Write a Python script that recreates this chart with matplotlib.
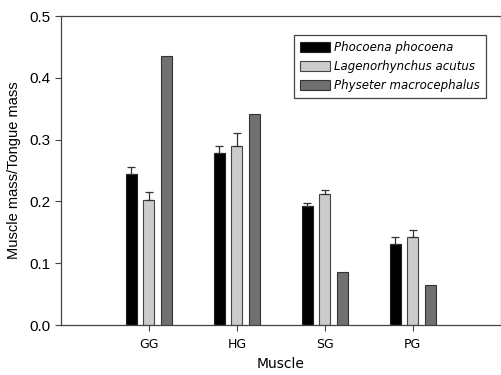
import numpy as np
import matplotlib.pyplot as plt

muscles = ["GG", "HG", "SG", "PG"]
species = ["Phocoena phocoena", "Lagenorhynchus acutus", "Physeter macrocephalus"]
phocoena = [0.244, 0.279, 0.193, 0.131]
phocoena_err = [0.011, 0.011, 0.004, 0.011]
lagenorhynchus = [0.203, 0.290, 0.212, 0.142]
lagenorhynchus_err = [0.012, 0.021, 0.007, 0.011]
physeter = [0.435, 0.342, 0.085, 0.064]

colors = ["#000000", "#cccccc", "#707070"]

fig = plt.figure(figsize=(5.02, 3.75), dpi=100)
ax = fig.add_axes([0.1215, 0.1333, 0.876, 0.824])

x = np.arange(1, len(muscles) + 1)
w = 0.125
off = 0.2
ekw = dict(elinewidth=0.9, capthick=0.9, ecolor="#333333")
ax.bar(x - off, phocoena, w, color=colors[0], edgecolor="#222222", linewidth=0.8,
       yerr=[np.zeros(4), phocoena_err], capsize=3, error_kw=ekw, label=species[0])
ax.bar(x, lagenorhynchus, w, color=colors[1], edgecolor="#444444", linewidth=0.8,
       yerr=[np.zeros(4), lagenorhynchus_err], capsize=3, error_kw=ekw, label=species[1])
ax.bar(x + off, physeter, w, color=colors[2], edgecolor="#333333", linewidth=0.8,
       label=species[2])

ax.set_xlim(0, 5)
ax.set_ylim(0, 0.5)
ax.set_xticks(x)
ax.set_xticklabels(muscles, fontsize=9, family="DejaVu Sans")
ax.set_yticks([0.0, 0.1, 0.2, 0.3, 0.4, 0.5])
ax.set_yticklabels(["0.0", "0.1", "0.2", "0.3", "0.4", "0.5"], fontsize=11,
                   family="Liberation Sans")
ax.tick_params(axis="both", direction="out", length=4, width=0.8, color="#444444")
ax.tick_params(axis="x", pad=5)
for side in ["left", "top", "bottom", "right"]:
    ax.spines[side].set_linewidth(0.9)
    ax.spines[side].set_color("#444444")

ax.set_xlabel("Muscle", fontsize=10, family="DejaVu Sans", labelpad=5)
ax.set_ylabel("Muscle mass/Tongue mass", fontsize=10.5, family="Liberation Sans", labelpad=6)

leg = ax.legend(loc="upper right", bbox_to_anchor=(0.966, 0.94), fancybox=False,
                framealpha=1, edgecolor="#444444", borderpad=0.55, handlelength=2.5,
                handleheight=0.9, labelspacing=0.5, handletextpad=0.3,
                borderaxespad=0,
                prop={"family": "DejaVu Sans", "style": "italic", "size": 8.5})
leg.get_frame().set_linewidth(0.9)

fig.savefig("out.png", dpi=100)
